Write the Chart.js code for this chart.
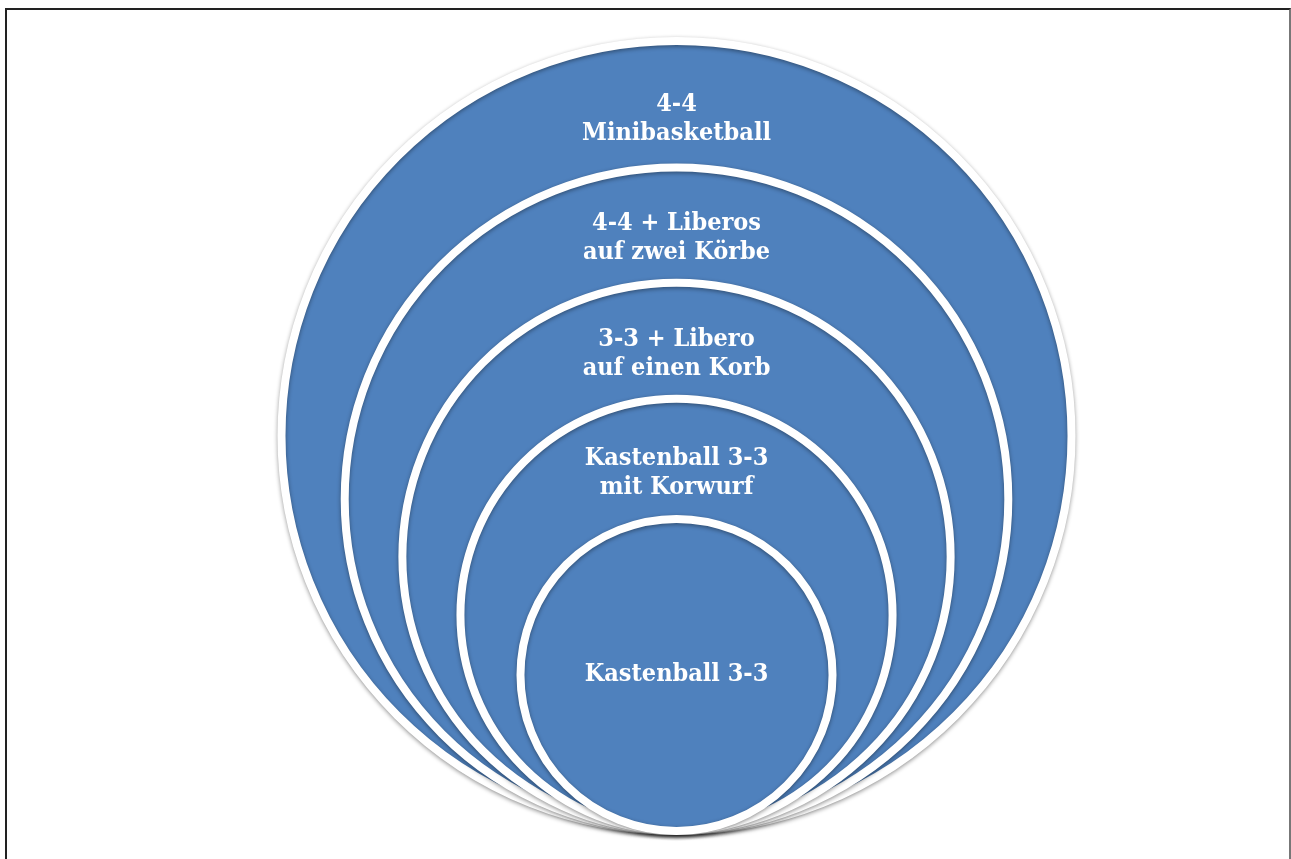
<!DOCTYPE html>
<html>
<head>
<meta charset="utf-8">
<script src="https://cdn.jsdelivr.net/npm/chart.js@4/dist/chart.umd.min.js"></script>
<style>
    html, body { margin: 0; padding: 0; background: #fff; overflow: hidden; }
    #frame {
        position: absolute; left: 5px; top: 8px;
        width: 1282px; height: 900px;
        border: 2px solid #222;
        border-right-color: #777;
    }
    #wrap { position: absolute; left: 0; top: 0; width: 1291px; height: 859px; }
</style>
</head>
<body>
<div id="frame"></div>
<div id="wrap"><canvas id="levels"></canvas></div>
<script>
// levels of the game, from the outside circle inwards
const levelLabels = [
    ['4-4', 'Minibasketball'],
    ['4-4 + Liberos', 'auf zwei Körbe'],
    ['3-3 + Libero', 'auf einen Korb'],
    ['Kastenball 3-3', 'mit Korwurf'],
    ['Kastenball 3-3']
];
// circle size of each level (outer circle = 100)
const levelRadius = [100, 84, 69.4, 54.7, 39.5];

// all circles sit on the same bottom point (0,0), so the centre is at y = r
const points = levelRadius.map(r => ({ x: 0, y: r }));

// radius in pixels, read through the x scale
function pxRadius(chart, r) {
    const xs = chart.scales.x;
    return xs.getPixelForValue(r) - xs.getPixelForValue(0);
}

// soft shadow round the circles
const shadowPlugin = {
    id: 'shadow',
    beforeDatasetDraw(chart) {
        const c = chart.ctx;
        c.save();
        c.shadowColor = 'rgba(0,0,0,0.4)';
        c.shadowBlur = 4;
        c.shadowOffsetY = 1.5;
    },
    afterDatasetDraw(chart) {
        chart.ctx.restore();
    }
};

// white text inside each ring
const labelPlugin = {
    id: 'ringLabels',
    afterDatasetsDraw(chart) {
        const c = chart.ctx;
        const xs = chart.scales.x, ys = chart.scales.y;
        c.save();
        c.fillStyle = '#ffffff';
        c.font = 'bold 25px "DejaVu Serif Condensed", "DejaVu Serif", serif';
        c.textAlign = 'center';
        c.textBaseline = 'middle';
        const lineH = 29;
        levelLabels.forEach((lines, i) => {
            const top = 2 * levelRadius[i];
            let ty;
            if (i < levelRadius.length - 1) {
                const nextTop = 2 * levelRadius[i + 1];
                ty = top - 0.615 * (top - nextTop);
            } else {
                ty = levelRadius[i];
            }
            const px = xs.getPixelForValue(0);
            const py = ys.getPixelForValue(ty);
            const start = py - (lines.length - 1) * lineH / 2;
            lines.forEach((t, j) => c.fillText(t, px, start + j * lineH));
        });
        c.restore();
    }
};

const ctx = document.getElementById('levels').getContext('2d');

const levelsChart = new Chart(ctx, {
    type: 'scatter',
    data: {
        datasets: [{
            data: points,
            backgroundColor: '#4f81bd',
            borderColor: '#ffffff',
            borderWidth: 8,
            pointRadius: c => pxRadius(c.chart, levelRadius[c.dataIndex]),
            pointHoverRadius: c => pxRadius(c.chart, levelRadius[c.dataIndex]),
            clip: false
        }]
    },
    options: {
        responsive: true,
        maintainAspectRatio: false,
        animation: false,
        events: [],
        layout: { padding: 0 },
        plugins: {
            legend: { display: false },
            tooltip: { enabled: false }
        },
        scales: {
            x: { type: 'linear', display: false, min: -171.27, max: 155.57 },
            y: { type: 'linear', display: false, min: -7.09, max: 210.38 }
        }
    },
    plugins: [shadowPlugin, labelPlugin]
});
</script>
</body>
</html>
